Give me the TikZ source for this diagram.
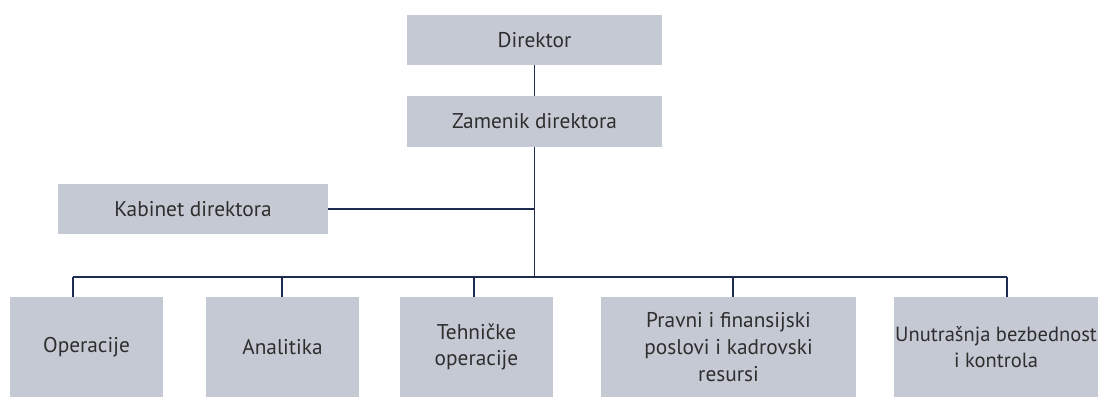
\documentclass[tikz,border=0pt]{standalone}
\usepackage{fontspec}
\setmainfont{PT Sans}
\usepackage{tikz}
\definecolor{boxgray}{HTML}{C5C9D3}
\definecolor{linenavy}{HTML}{1E2B50}
\definecolor{textgray}{HTML}{2E2E2E}

\begin{document}
\begin{tikzpicture}[
        x=0.75pt, y=-0.75pt,
        unit/.style={fill=boxgray, inner sep=0pt, align=center, text=textgray,
                     font=\fontsize{16}{20}\selectfont},
        wide/.style={unit, minimum width=191.25pt, minimum height=37.5pt},
        dept/.style={unit, minimum width=114.75pt, minimum height=75pt},
        link/.style={draw=linenavy, line width=1pt}
        ]
        \useasboundingbox (0,0) rectangle (1099,397);

        \node[wide] (direktor) at (534.5,40) {Direktor};
        \node[wide, minimum height=38.25pt] (zamenik) at (534.5,121.5) {Zamenik direktora};
        \node[wide, minimum width=202.5pt] (kabinet) at (193,209) {Kabinet direktora};

        \node[dept] (operacije) at (86.5,347) {Operacije};
        \node[dept] (analitika) at (282.5,347) {Analitika};
        \node[dept] (tehnicke) at (476.5,347) {Tehničke\\operacije};
        \node[dept, minimum width=191.25pt] (pravni) at (728.5,347) {Pravni i finansijski\\poslovi i kadrovski\\resursi};
        \node[dept, minimum width=153pt, font=\fontsize{15.4}{20}\selectfont] (unutrasnja) at (996,347) {Unutrašnja bezbednost\\i kontrola};

        % bus
        \coordinate (b1) at (73,277);
        \coordinate (b2) at (282,277);
        \coordinate (b3) at (474,277);
        \coordinate (b4) at (733,277);
        \coordinate (b5) at (1007,277);

        \path[link]
              (direktor) -- (zamenik)
              (zamenik.south) -- (zamenik.south |- b1)
              (kabinet.east) -- (kabinet.east -| zamenik.south)
              (b1) -- (b5)
              (b1) -- (b1 |- operacije.north)
              (b2) -- (b2 |- analitika.north)
              (b3) -- (b3 |- tehnicke.north)
              (b4) -- (b4 |- pravni.north)
              (b5) -- (b5 |- unutrasnja.north);
\end{tikzpicture}
\end{document}
